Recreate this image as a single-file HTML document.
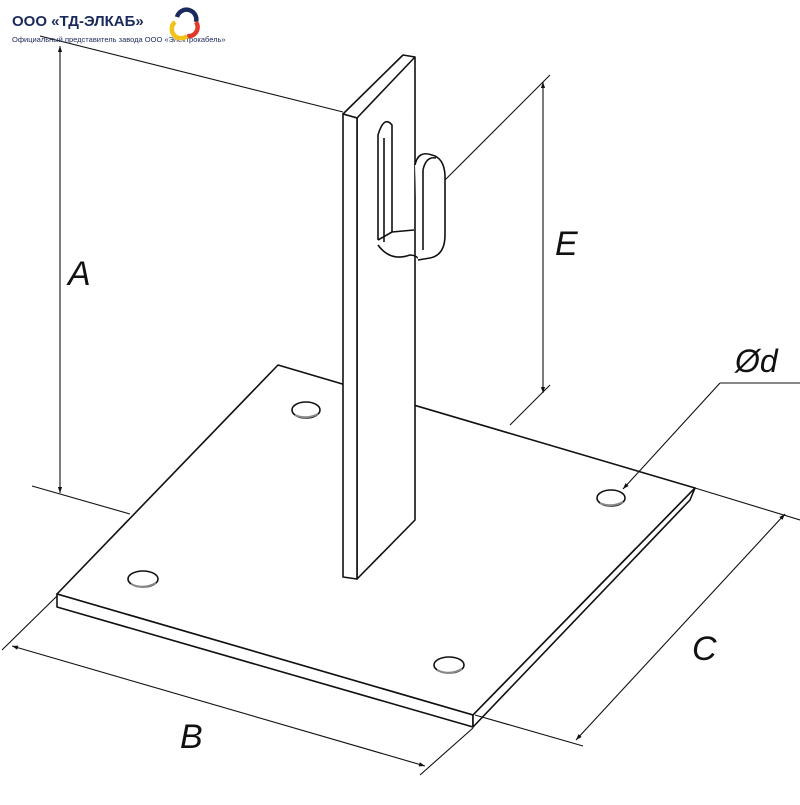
<!DOCTYPE html>
<html><head><meta charset="utf-8"><style>
body{margin:0;background:#fff;width:800px;height:800px;overflow:hidden}
</style></head><body>
<svg width="800" height="800" viewBox="0 0 800 800" xmlns="http://www.w3.org/2000/svg" font-family="Liberation Sans, DejaVu Sans, sans-serif">
<defs>
<marker id="ar" viewBox="0 0 10 10" refX="10" refY="5" markerWidth="12" markerHeight="6" orient="auto-start-reverse" markerUnits="userSpaceOnUse"><path d="M0,1.5 L10,5 L0,8.5 z" fill="#111"/></marker>
</defs>
<g stroke="#111" stroke-width="1.6" fill="none" stroke-linejoin="round">
<polygon points="57,594 278,365 695,488 473,715" fill="#fff"/>
<polygon points="57,594 57,607 473,727 473,715" fill="#fff"/>
<polygon points="473,715 473,727 690,500 695,488" fill="#fff"/>
<ellipse cx="306" cy="410" rx="14" ry="8" fill="#fff"/>
<ellipse cx="611" cy="498" rx="14" ry="8" fill="#fff"/>
<ellipse cx="143" cy="579" rx="15" ry="8" fill="#fff"/>
<ellipse cx="449" cy="665" rx="15" ry="8" fill="#fff"/>
<path d="M295,415 Q306,420 318,414" stroke="#888" stroke-width="2"/>
<path d="M600,503 Q611,508 623,502" stroke="#888" stroke-width="2"/>
<path d="M131,584 Q143,590 156,583" stroke="#888" stroke-width="2"/>
<path d="M437,670 Q449,676 462,669" stroke="#888" stroke-width="2"/>
<polygon points="343,114 403,55 415,57 415,520 357,579 357,118" fill="#fff"/>
<polygon points="343,114 357,118 357,579 343,577" fill="#fff"/>
<path d="M357,118 L415,57"/>
<path d="M378,240 L378,135 Q384,115 392,125 L392,232"/>
<path d="M384,242 L384,138"/>
<path d="M378,240 L392,232 L414,230"/>
<path d="M378,245 Q390,262 410,255 Q416,255 420,260"/>
<path d="M415,165 Q418,150 432,155 Q444,158 445,175 L445,235 Q445,255 430,258 L418,260" fill="#fff"/>
<path d="M423,170 Q426,156 436,158"/>
<path d="M423,170 L423,250"/>
</g>
<g stroke="#111" stroke-width="1.1" fill="none">
<line x1="40" y1="36" x2="343" y2="112"/>
<line x1="32" y1="486" x2="130" y2="514"/>
<line x1="60" y1="46" x2="60" y2="493" marker-start="url(#ar)" marker-end="url(#ar)"/>
<line x1="445" y1="180" x2="550" y2="75"/>
<line x1="510" y1="425" x2="550" y2="385"/>
<line x1="543" y1="82" x2="543" y2="393" marker-start="url(#ar)" marker-end="url(#ar)"/>
<line x1="57" y1="596" x2="2" y2="650"/>
<line x1="473" y1="728" x2="420" y2="775"/>
<line x1="12" y1="646" x2="425" y2="766" marker-start="url(#ar)" marker-end="url(#ar)"/>
<line x1="695" y1="488" x2="800" y2="520"/>
<line x1="475" y1="715" x2="583" y2="746"/>
<line x1="785" y1="514" x2="576" y2="740" marker-start="url(#ar)" marker-end="url(#ar)"/>
<line x1="720" y1="383" x2="800" y2="383"/>
<line x1="720" y1="383" x2="623" y2="489" marker-end="url(#ar)"/>
</g>
<g font-style="italic" font-size="34" fill="#111">
<text x="68" y="285">A</text>
<text x="555" y="255">E</text>
<text x="180" y="748">B</text>
<text x="692" y="660">C</text>
<text x="735" y="372" font-size="32">Ød</text>
</g>
<text x="12" y="26" font-size="15" font-weight="bold" fill="#1b2a5c">ООО «ТД-ЭЛКАБ»</text>
<text x="12" y="42" font-size="7.5" fill="#1b2a5c">Официальный представитель завода ООО «Электрокабель»</text>
<g fill="none" stroke-width="4.5">
<path d="M177,17 A9,9 0 0 1 196,22" stroke="#1b2a5c"/>
<path d="M196,22 A9,9 0 0 1 187,36" stroke="#e23a2a"/>
<path d="M187,36 A9,9 0 0 1 175,22" stroke="#f2c21b"/>
</g>
</svg>
</body></html>
